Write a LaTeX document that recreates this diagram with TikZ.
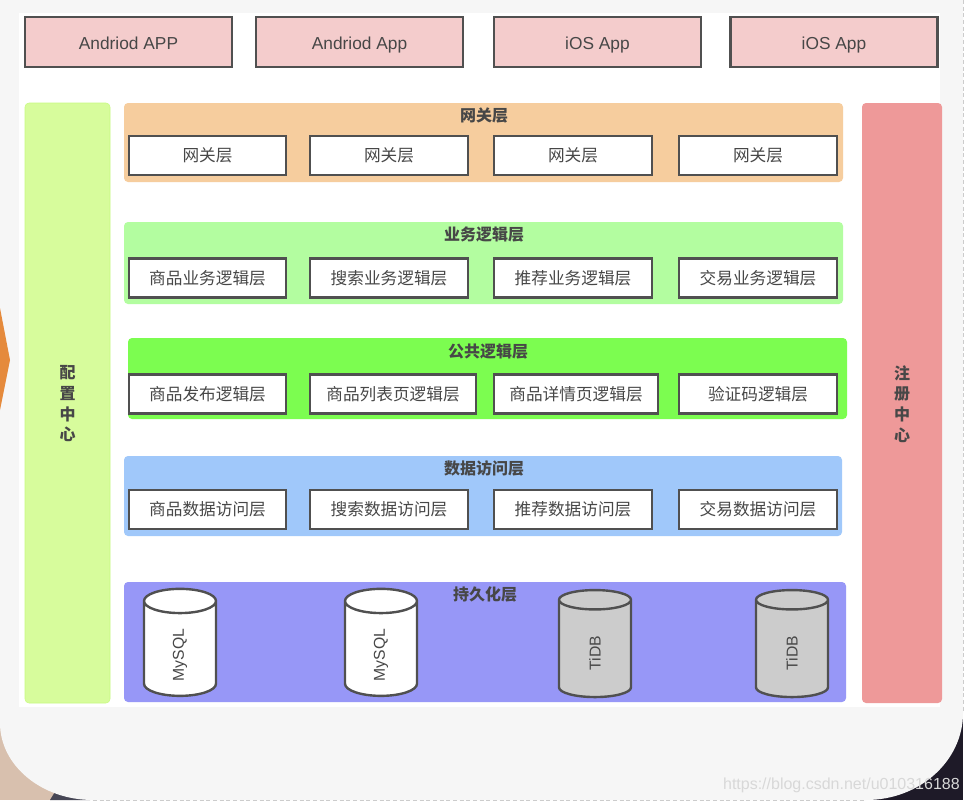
\documentclass[tikz,border=0pt]{standalone}
\usepackage{fontspec}
\setmainfont{Liberation Sans}
\newfontfamily\cjk{Noto Sans CJK SC}
\usetikzlibrary{shapes.geometric,positioning}
\newlength{\px}
\setlength{\px}{0.75pt}
\definecolor{txt}{HTML}{474747}
\definecolor{edge}{HTML}{505050}
\definecolor{appfill}{HTML}{F4CCCC}
\definecolor{dbgray}{HTML}{CCCCCC}
\definecolor{panel}{HTML}{F6F6F6}
\definecolor{photoa}{HTML}{D8C0AE}
\definecolor{photob}{HTML}{1E1A28}
\definecolor{photoc}{HTML}{464655}
\definecolor{arrowfill}{HTML}{E58A3C}
\definecolor{configfill}{HTML}{D7FC9C}
\definecolor{configedge}{HTML}{C8FA82}
\definecolor{registryfill}{HTML}{EE9999}
\definecolor{gwfill}{HTML}{F6CD9E}
\definecolor{bizfill}{HTML}{B3FDA0}
\definecolor{comfill}{HTML}{7CFD50}
\definecolor{daofill}{HTML}{A0C8FA}
\definecolor{dbfill}{HTML}{9797F7}
\definecolor{markgray}{HTML}{D8D8D8}

\begin{document}
\begin{tikzpicture}[x=1\px, y=-1\px,
      app/.style={rectangle, draw=edge, line width=2.4\px, fill=appfill, minimum width=207\px, minimum height=50\px, text=txt, text height=12pt, text depth=1.5pt, inner sep=0pt, font=\fontsize{13pt}{15pt}\selectfont},
      layer/.style={rectangle, rounded corners=4\px, minimum height=80\px, minimum width=719\px},
      title/.style={text=txt, inner sep=0pt, font=\cjk\bfseries\fontsize{12pt}{14pt}\selectfont},
      sidetitle/.style={text=txt, inner sep=0pt, align=center, font=\cjk\bfseries\fontsize{12pt}{15.5pt}\selectfont},
      item/.style={rectangle, draw=edge, line width=2.4\px, fill=white, minimum height=39\px, minimum width=158\px, inner sep=0pt, text=txt, font=\cjk\fontsize{12.5pt}{14pt}\selectfont},
      side/.style={rectangle, rounded corners=4\px, minimum height=600\px},
      store/.style={cylinder, rotate=90, shape aspect=1.7, draw=edge, line width=2.4\px, minimum width=72\px, minimum height=107\px, inner sep=0pt, text=txt, cylinder uses custom fill, font=\fontsize{11.8pt}{14pt}\selectfont},
      mysql/.style={store, cylinder body fill=white, cylinder end fill=white},
      tidb/.style={store, cylinder body fill=dbgray, cylinder end fill=dbgray}]

\useasboundingbox (0,0) rectangle (970,804);

% screenshot behind the chart
\fill[white] (0,0) rectangle (970,804);
\fill[photoa] (0,700) rectangle (110,800);
\fill[photob] (850,700) rectangle (963,800);
\fill[photoc] (50,800) -- (58,787) -- (90,800) -- cycle;
\fill[panel] (0,0) -- (963,0) -- (963,713) arc[start angle=0, end angle=90, x radius=97, y radius=87] -- (93,800) arc[start angle=90, end angle=180, x radius=93, y radius=77] -- cycle;
\draw[densely dashed, gray!40, line width=1\px] (963,0) -- (963,713);
\draw[densely dashed, gray!40, line width=1\px] (93,800) -- (866,800);
\fill[arrowfill] (0,308) -- (10,360) -- (0,410) -- cycle;
\fill[white] (19,13) rectangle (940,707);

% clients
\node[app] (app1) at (128.5,42) {Andriod APP};
\node[app] (app2) at (359.5,42) {Andriod App};
\node[app] (app3) at (597.5,42) {iOS App};
\node[app] (app4) at (834,42) {iOS App};

% left and right bars
\node[side, fill=configfill, draw=configedge, minimum width=85\px] (config) at (67.5,403) {};
\node[sidetitle] (configlabel) at (67.5,404) {配\\置\\中\\心};
\node[side, fill=registryfill, minimum width=80\px] (registry) at (902,403) {};
\node[sidetitle] (registrylabel) at (902,404) {注\\册\\中\\心};

% gateway
\node[layer, fill=gwfill, minimum height=79\px] (gw) at (483.5,142.5) {};
\node[title] (gwtitle) at (484,115.5) {网关层};
\node[item, minimum width=157\px] (gw1) at (207.5,155.5) {网关层};
\node[item] (gw2) at (389,155.5) {网关层};
\node[item] (gw3) at (573,155.5) {网关层};
\node[item] (gw4) at (758,155.5) {网关层};

% business
\node[layer, fill=bizfill, minimum height=82\px] (biz) at (483.5,263) {};
\node[title] (biztitle) at (484,235) {业务逻辑层};
\node[item, minimum width=157\px] (biz1) at (207.5,278) {商品业务逻辑层};
\node[item] (biz2) at (389,278) {搜索业务逻辑层};
\node[item] (biz3) at (573,278) {推荐业务逻辑层};
\node[item] (biz4) at (758,278) {交易业务逻辑层};

% common
\node[layer, fill=comfill, minimum height=81\px] (com) at (487.5,378.5) {};
\node[title] (comtitle) at (488,351) {公共逻辑层};
\node[item, minimum width=157\px] (com1) at (207.5,394) {商品发布逻辑层};
\node[item, minimum width=166\px] (com2) at (393,394) {商品列表页逻辑层};
\node[item, minimum width=164\px] (com3) at (576,394) {商品详情页逻辑层};
\node[item] (com4) at (758,394) {验证码逻辑层};

% data access
\node[layer, fill=daofill, minimum width=718\px] (dao) at (483,496) {};
\node[title] (daotitle) at (484,468) {数据访问层};
\node[item, minimum width=157\px] (dao1) at (207.5,509.5) {商品数据访问层};
\node[item] (dao2) at (389,509.5) {搜索数据访问层};
\node[item] (dao3) at (573,509.5) {推荐数据访问层};
\node[item] (dao4) at (758,509.5) {交易数据访问层};

% persistence
\node[layer, fill=dbfill, minimum height=120\px, minimum width=722\px] (db) at (485,642) {};
\node[title] (dbtitle) at (485,594) {持久化层};
\node[mysql] (db1) at (180,649) {MySQL\hspace*{12\px}};
\node[mysql] (db2) at (381,649) {MySQL\hspace*{12\px}};
\node[tidb] (db3) at (595,649) {TiDB\hspace*{8\px}};
\node[tidb] (db4) at (792,649) {TiDB\hspace*{8\px}};

\node[anchor=east, inner sep=0pt, text=markgray, font=\fontsize{12pt}{14pt}\selectfont] (mark) at (960,785) {https://blog.csdn.net/u010316188};

\end{tikzpicture}
\end{document}
